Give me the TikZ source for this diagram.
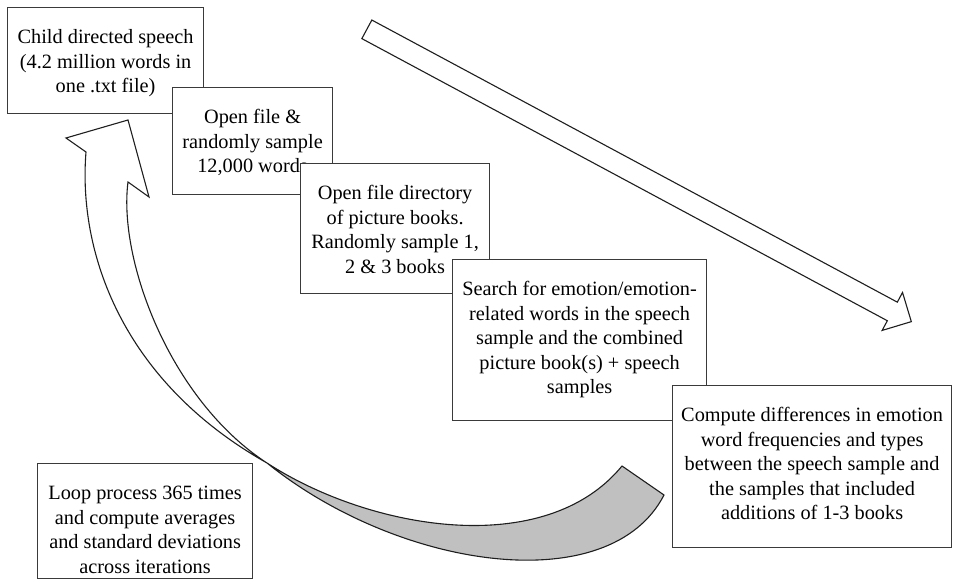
\documentclass[tikz,border=0pt]{standalone}
\usepackage{fontspec}
\setmainfont{Liberation Serif}
\usetikzlibrary{shapes.arrows}
\definecolor{boxline}{HTML}{3A3A3A}
\definecolor{ribbon}{HTML}{C0C0C0}
\definecolor{outline}{HTML}{1E1E1E}
% text sits at the top of each box, as in a word processor text box
\newcommand{\steptext}[3]{\parbox[c][#2pt][t]{#1pt}{\centering\vspace*{19pt}\noindent\strut#3}}

\begin{document}
\begin{tikzpicture}[
    x=1pt, y=-1pt,
    font=\fontsize{20.3}{24.5}\selectfont,
    stepbox/.style={
      draw=boxline, fill=white, line width=1.2pt,
      inner sep=0pt, anchor=north west
    },
    bigarrow/.style={
      single arrow, draw=outline, fill=white, line width=1.1pt,
      minimum height=618pt, inner sep=10pt,
      single arrow head extend=11pt
    },
    band/.style={draw=outline, line width=1.1pt, line join=miter}
  ]
  \useasboundingbox (0,0) rectangle (953,580);

  \node[stepbox] (speech) at (7,7) {\steptext{196}{106}{Child directed speech\\(4.2 million words in\\one .txt file)}};
  \node[stepbox] (sample) at (172,87) {\steptext{160}{107}{Open file \&\\randomly sample\\12,000 words}};
  \node[stepbox] (books) at (300,163) {\steptext{189}{130}{Open file directory\\of picture books.\\Randomly sample 1,\\2 \& 3 books}};
  \node[stepbox] (search) at (452,259) {\steptext{254}{161}{Search for emotion/emotion-\\related words in the speech\\sample and the combined\\picture book(s) + speech\\samples}};
  \node[stepbox] (compare) at (672,385) {\steptext{279}{162}{Compute differences in emotion\\word frequencies and types\\between the speech sample and\\the samples that included\\additions of 1-3 books}};
  \node[stepbox] (loop) at (37,463) {\steptext{215}{115}{Loop process 365 times\\and compute averages\\and standard deviations\\across iterations}};

  % straight block arrow
  \node[bigarrow, rotate=-28.23, anchor=tip] (flow) at (912,322) {};

  % curved block arrow back to the start
  \coordinate (tip) at (128,120);
  \coordinate (lcorner) at (66,138);
  \coordinate (lnotch) at (86,152);
  \coordinate (rnotch) at (128,182);
  \coordinate (rcorner) at (149,197);
  \coordinate (twist) at (267,463);
  \coordinate (tailtop) at (622,466);
  \coordinate (tailbot) at (664,495);

  \filldraw[band, fill=white] (tip) -- (lcorner) -- (lnotch)
    .. controls (78,250) and (120,380) .. (twist)
    .. controls (170,400) and (118,260) .. (rnotch)
    -- (rcorner) -- cycle;
  \filldraw[band, fill=ribbon] (twist)
    .. controls (370,530) and (545,560) .. (tailtop)
    -- (tailbot)
    .. controls (610,600) and (400,570) .. (twist) -- cycle;
\end{tikzpicture}
\end{document}
